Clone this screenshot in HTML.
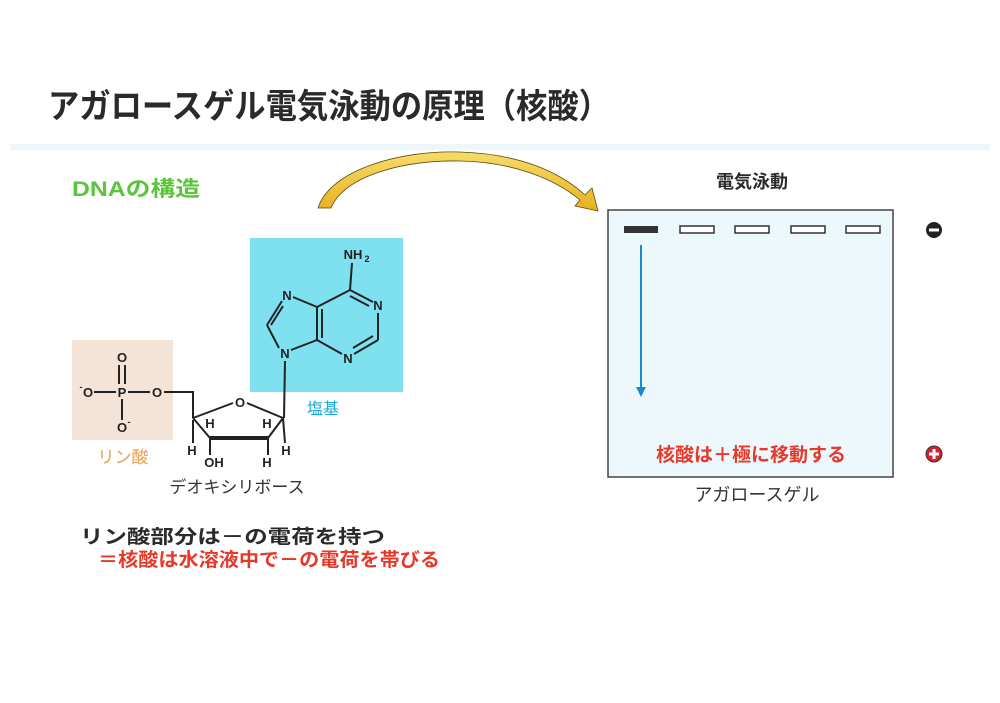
<!DOCTYPE html>
<html><head><meta charset="utf-8"><style>
body{margin:0;background:#fff;}
svg{display:block;font-family:"Liberation Sans","Noto Sans CJK JP",sans-serif;}
</style></head><body>
<svg width="1000" height="703" viewBox="0 0 1000 703">
<defs>
<linearGradient id="yg" x1="0" y1="0" x2="0" y2="1"><stop offset="0" stop-color="#f7dc6a"/><stop offset="1" stop-color="#e8b020"/></linearGradient>
</defs>
<rect width="1000" height="703" fill="#fff"/>
<text x="48" y="118" font-size="34" font-weight="bold" fill="#2a2a2a" textLength="562" lengthAdjust="spacingAndGlyphs">アガロースゲル電気泳動の原理（核酸）</text>
<rect x="10" y="144" width="980" height="6" fill="#eef8fb"/>
<text x="72" y="196" font-size="21" font-weight="bold" fill="#5cc43c" textLength="128" lengthAdjust="spacingAndGlyphs">DNAの構造</text>
<!-- yellow arrow -->
<path d="M318,208 C330,170 400,150 460,152 C520,154 560,172 585,195 L592,188 L598,211 L575,206 L580,200 C556,180 515,162 460,161 C405,160 345,175 331,208 Z" fill="url(#yg)" stroke="#5a4a10" stroke-width="0.8"/>
<!-- boxes -->
<rect x="72" y="340" width="101" height="100" fill="#f3e4d7"/>
<rect x="250" y="238" width="153" height="154" fill="#7fe1ef"/>
<g font-size="13" fill="#222" text-anchor="middle" font-weight="bold">
<text x="122" y="362">O</text>
<text x="88" y="397">O</text><text x="81" y="390" font-size="9">-</text>
<text x="122" y="397">P</text>
<text x="157" y="397">O</text>
<text x="122" y="432">O</text><text x="129" y="425" font-size="9">-</text>
<text x="240" y="407">O</text>
<text x="210" y="428">H</text><text x="267" y="428">H</text>
<text x="192" y="455">H</text><text x="214" y="467">OH</text>
<text x="267" y="467">H</text><text x="286" y="455">H</text>
<text x="285" y="358">N</text><text x="287" y="300">N</text>
<text x="378" y="310">N</text><text x="348" y="363">N</text>
<text x="353" y="259">NH</text><text x="367" y="262" font-size="9">2</text>
</g>
<g stroke="#222" stroke-width="2" fill="none">
<line x1="94" y1="392" x2="116" y2="392"/><line x1="128" y1="392" x2="150" y2="392"/>
<line x1="119" y1="365" x2="119" y2="384"/><line x1="125" y1="365" x2="125" y2="384"/>
<line x1="122" y1="399" x2="122" y2="420"/>
<polyline points="164,392 193,392 193,418"/>
<line x1="193" y1="418" x2="233" y2="403"/><line x1="247" y1="403" x2="283" y2="418"/>
<line x1="193" y1="418" x2="210" y2="438"/><line x1="283" y1="418" x2="268" y2="438"/>
<line x1="210" y1="438" x2="268" y2="438" stroke-width="4"/>
<line x1="193" y1="420" x2="193" y2="443"/><line x1="210" y1="438" x2="210" y2="455"/>
<line x1="268" y1="438" x2="268" y2="455"/><line x1="283" y1="418" x2="285" y2="443"/>
<line x1="284" y1="418" x2="285" y2="361"/>
<line x1="279" y1="348" x2="267" y2="325"/><line x1="267" y1="325" x2="282" y2="301"/>
<line x1="271" y1="325" x2="283" y2="306"/>
<line x1="293" y1="297" x2="317" y2="307"/><line x1="317" y1="307" x2="317" y2="340"/>
<line x1="322" y1="309" x2="322" y2="338"/>
<line x1="291" y1="350" x2="317" y2="340"/>
<line x1="317" y1="307" x2="350" y2="290"/><line x1="350" y1="290" x2="373" y2="302"/>
<line x1="350" y1="296" x2="369" y2="306"/>
<line x1="378" y1="313" x2="378" y2="340"/><line x1="378" y1="340" x2="354" y2="354"/>
<line x1="373" y1="336" x2="353" y2="348"/>
<line x1="342" y1="354" x2="317" y2="340"/>
<line x1="350" y1="290" x2="352" y2="263"/>
</g>
<text x="323" y="414" font-size="16" fill="#1aa8d8" text-anchor="middle">塩基</text>
<text x="123" y="463" font-size="17" fill="#e8a050" text-anchor="middle">リン酸</text>
<text x="237" y="493" font-size="17" fill="#333" text-anchor="middle">デオキシリボース</text>
<text x="80" y="543" font-size="19" font-weight="bold" fill="#2a2a2a" textLength="305" lengthAdjust="spacingAndGlyphs">リン酸部分は－の電荷を持つ</text>
<text x="98" y="566" font-size="19" font-weight="bold" fill="#e8382a" textLength="342" lengthAdjust="spacingAndGlyphs">＝核酸は水溶液中で－の電荷を帯びる</text>
<!-- gel -->
<text x="752" y="188" font-size="18" font-weight="bold" fill="#2a2a2a" text-anchor="middle">電気泳動</text>
<rect x="608" y="210" width="285" height="267" fill="#edf8fc" stroke="#444" stroke-width="1.5"/>
<rect x="624" y="226" width="34" height="7" fill="#333"/>
<g fill="#fff" stroke="#333" stroke-width="1.5">
<rect x="680" y="226" width="34" height="7"/><rect x="735" y="226" width="34" height="7"/>
<rect x="791" y="226" width="34" height="7"/><rect x="846" y="226" width="34" height="7"/>
</g>
<line x1="641" y1="245" x2="641" y2="388" stroke="#1a8ad0" stroke-width="2"/>
<path d="M636,387 L646,387 L641,397 Z" fill="#1a8ad0"/>
<text x="751" y="461" font-size="19" font-weight="bold" fill="#e8382a" text-anchor="middle">核酸は＋極に移動する</text>
<text x="757" y="501" font-size="18" fill="#333" text-anchor="middle">アガロースゲル</text>
<circle cx="934" cy="230" r="8" fill="#222"/><rect x="929" y="228.5" width="10" height="3" fill="#fff"/>
<circle cx="934" cy="454" r="8" fill="#d82030" stroke="#333" stroke-width="1"/>
<rect x="929" y="452.5" width="10" height="3" fill="#fff"/><rect x="932.5" y="449" width="3" height="10" fill="#fff"/>
</svg>
</body></html>
